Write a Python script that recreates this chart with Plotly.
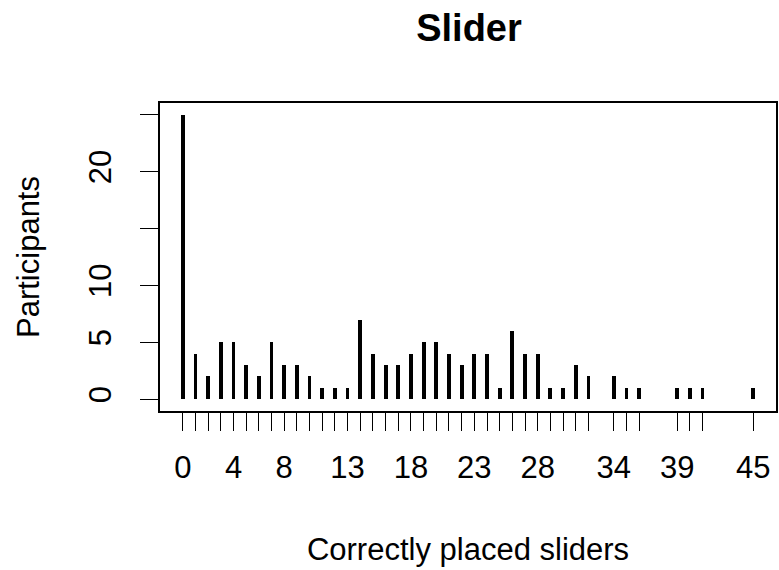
import plotly.graph_objects as go

# Data
sliders = [0, 1, 2, 3, 4, 5, 6, 7, 8, 9, 10, 11, 12, 13, 14, 15, 16, 17, 18, 19,
           20, 21, 22, 23, 24, 25, 26, 27, 28, 29, 30, 31, 32, 34, 35, 36, 39, 40, 41, 45]
participants = [25, 4, 2, 5, 5, 3, 2, 5, 3, 3, 2, 1, 1, 1, 7, 4, 3, 3, 4, 5,
                5, 4, 3, 4, 4, 1, 6, 4, 4, 1, 1, 3, 2, 2, 1, 1, 1, 1, 1, 1]
x_labeled = [0, 4, 8, 13, 18, 23, 28, 34, 39, 45]
y_ticks = [0, 5, 10, 15, 20, 25]
y_labeled = [0, 5, 10, 20]

x_text = [str(v) if v in x_labeled else "" for v in sliders]
y_text = [str(v) if v in y_labeled else "" for v in y_ticks]

FONT = "Liberation Sans, Arial, sans-serif"
FS = 31

fig = go.Figure()
fig.add_trace(go.Bar(
    x=sliders, y=participants, width=0.3,
    marker=dict(color="black", line=dict(width=0)),
    showlegend=False,
))

fig.update_layout(
    width=779, height=570,
    margin=dict(l=160, r=1, t=103, b=159),
    paper_bgcolor="white", plot_bgcolor="white",
    font=dict(family=FONT, size=FS, color="black"),
    title=dict(text="<b>Slider</b>", x=469 / 779, xanchor="center",
               y=1 - 28 / 570, yanchor="middle", yref="container",
               font=dict(family=FONT, size=38, color="black")),
    bargap=0,
)

fig.update_xaxes(
    range=[-1.8, 46.8], showgrid=False, zeroline=False,
    showline=True, linecolor="black", linewidth=1.5, mirror=True,
    ticks="outside", ticklen=18, tickwidth=1.3, tickcolor="black",
    tickmode="array", tickvals=sliders, ticktext=x_text,
    tickfont=dict(size=FS), ticklabelstandoff=10,
    title=dict(text="Correctly placed sliders", font=dict(size=FS), standoff=54),
)
fig.update_yaxes(
    range=[-1.04, 26.04], showgrid=False, zeroline=False,
    showline=True, linecolor="black", linewidth=1.5, mirror=True,
    ticks="outside", ticklen=18, tickwidth=1.3, tickcolor="black",
    tickmode="array", tickvals=y_ticks, ticktext=y_text, tickangle=-90,
    tickfont=dict(size=FS), ticklabelstandoff=17,
    title=dict(text="Participants", font=dict(size=FS), standoff=34),
)

fig.write_html("out.html")
